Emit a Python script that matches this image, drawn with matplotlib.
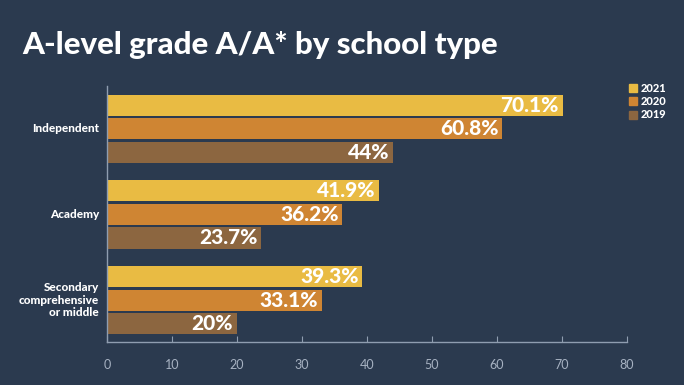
import numpy as np
import matplotlib.pyplot as plt
from matplotlib.patches import Patch

categories = ["Independent", "Academy", "Secondary\ncomprehensive\nor middle"]
years = ["2021", "2020", "2019"]
values = {
    "2021": [70.1, 41.9, 39.3],
    "2020": [60.8, 36.2, 33.1],
    "2019": [44.0, 23.7, 20.0],
}
labels = {
    "2021": ["70.1%", "41.9%", "39.3%"],
    "2020": ["60.8%", "36.2%", "33.1%"],
    "2019": ["44%", "23.7%", "20%"],
}
colors = {"2021": "#e9bb43", "2020": "#cf8533", "2019": "#8c6640"}
bg = "#2b3a4f"
axis_col = "#8f9db0"

fig = plt.figure(figsize=(6.84, 3.85), dpi=100, facecolor=bg)
ax = fig.add_axes([107/684, 1 - 342/385, 520/684, 256/385], facecolor=bg)

y = np.arange(len(categories))
step = 0.275
h = 0.246
for i, yr in enumerate(years):
    pos = y + (i - 1) * step
    ax.barh(pos, values[yr], height=h, color=colors[yr], label=yr)
    for p, v, t in zip(pos, values[yr], labels[yr]):
        ax.text(v - 0.6, p, t, ha="right", va="center", color="white",
                fontsize=15, fontweight="black", family="Lato")

ax.set_xlim(0, 80)
ax.set_ylim(2.49, -0.5)
ax.set_xticks(range(0, 81, 10))
ax.set_yticks([])
for s in ["top", "right"]:
    ax.spines[s].set_visible(False)
for s in ["left", "bottom"]:
    ax.spines[s].set_color(axis_col)
    ax.spines[s].set_linewidth(1.0)
ax.tick_params(axis="x", direction="in", length=4.5, color=axis_col,
               labelcolor="#a7b2c2", labelsize=9, pad=12)
for lab in ax.get_xticklabels():
    lab.set_family("Lato")

for c, yc in zip(categories, y):
    ax.text(-1.2, yc, c, ha="right", va="center", color="white", fontsize=8.5,
            fontweight="black", family="Lato", multialignment="right",
            linespacing=1.2)

handles = [Patch(color=colors[yr], label=yr) for yr in years]
leg = fig.legend(handles=handles, loc="upper left", bbox_to_anchor=(619/684, 1 - 73/385),
                 frameon=False, handlelength=0.75, handleheight=0.75,
                 handletextpad=0.3, labelspacing=0.2, fontsize=8)
for t in leg.get_texts():
    t.set_color("white")
    t.set_fontweight("black")
    t.set_family("Lato")

fig.text(22/684, 1 - 45/385, "A-level grade A/A* by school type", color="white",
         fontsize=22.5, fontweight="black", family="Lato", va="center", ha="left")

fig.savefig("out.png", dpi=100, facecolor=bg)
